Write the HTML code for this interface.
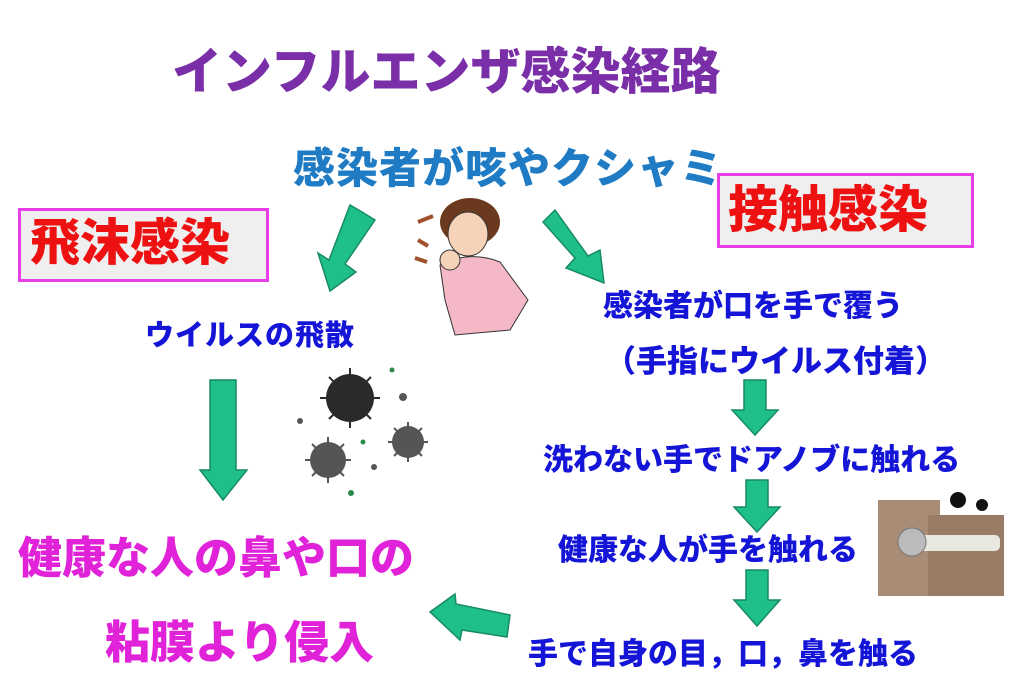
<!DOCTYPE html>
<html><head><meta charset="utf-8"><style>
body{margin:0;width:1024px;height:683px;background:#fff;position:relative;overflow:hidden;font-family:"Liberation Sans","Noto Sans CJK JP",sans-serif;font-weight:900}
.t{position:absolute;white-space:nowrap;line-height:1}
.box{position:absolute;border:3px solid #e83ee8;background:#efefef;box-sizing:border-box}
</style></head><body>
<div class="t" style="left:172px;top:47px;font-size:50px;color:#7a2fa8;letter-spacing:0px">インフルエンザ感染経路</div>
<div class="t" style="left:293px;top:148px;font-size:42px;color:#1f7cc4;letter-spacing:1px">感染者が咳やクシャミ</div>

<div class="box" style="left:18px;top:208px;width:251px;height:74px"></div>
<div class="t" style="left:30px;top:218px;font-size:50px;color:#ee1111">飛沫感染</div>
<div class="box" style="left:717px;top:173px;width:257px;height:75px"></div>
<div class="t" style="left:728px;top:185px;font-size:50px;color:#ee1111">接触感染</div>

<div class="t" style="left:145px;top:322px;font-size:29px;color:#1515d8;letter-spacing:1px">ウイルスの飛散</div>
<div class="t" style="left:18px;top:537px;font-size:44px;color:#e022d8">健康な人の鼻や口の</div>
<div class="t" style="left:105px;top:620px;font-size:45px;color:#e022d8">粘膜より侵入</div>

<div class="t" style="left:603px;top:292px;font-size:30px;color:#1515d8">感染者が口を手で覆う</div>
<div class="t" style="left:605px;top:346px;font-size:31px;color:#1515d8">（手指にウイルス付着）</div>
<div class="t" style="left:543px;top:446px;font-size:30px;color:#1515d8">洗わない手でドアノブに触れる</div>
<div class="t" style="left:558px;top:536px;font-size:30px;color:#1515d8">健康な人が手を触れる</div>
<div class="t" style="left:528px;top:640px;font-size:30px;color:#1515d8">手で自身の目，口，鼻を触る</div>

<svg width="1024" height="683" style="position:absolute;left:0;top:0">
<g fill="#1fbf8a" stroke="#178a66" stroke-width="1.5">
<!-- left diagonal -->
<polygon points="362,212 375,220 345,264 356,272 330,291 318,253 329,260 350,205"/>
<!-- right diagonal -->
<polygon points="555,210 543,222 575,258 566,268 604,283 600,250 588,256"/>
<!-- big down -->
<polygon points="210,380 236,380 236,470 247,470 223,500 200,470 210,470"/>
<!-- small downs -->
<polygon points="744,380 766,380 766,410 778,410 755,435 732,410 744,410"/>
<polygon points="746,480 768,480 768,507 780,507 757,532 734,507 746,507"/>
<polygon points="746,570 768,570 768,600 780,600 757,626 734,600 746,600"/>
<!-- left arrow -->
<polygon points="510,615 507,637 462,630 460,640 430,612 455,594 456,604"/>
</g>
<!-- woman -->
<g>
<ellipse cx="470" cy="222" rx="30" ry="24" fill="#6b3a1e"/>
<ellipse cx="468" cy="234" rx="20" ry="22" fill="#f6d2b8" stroke="#333"/>
<path d="M440,265 Q470,250 500,262 L528,300 L510,330 L455,335 L445,300 Z" fill="#f4b8c6" stroke="#333"/>
<circle cx="450" cy="260" r="10" fill="#f6d2b8" stroke="#333"/>
<path d="M418,222 l15,-6 M418,240 l10,6 M415,258 l12,4" stroke="#a0522d" stroke-width="4"/>
</g>
<!-- viruses -->
<g fill="#2a2a2a">
<circle cx="350" cy="398" r="24"/><circle cx="328" cy="460" r="18" fill="#555"/><circle cx="408" cy="442" r="16" fill="#555"/>
<circle cx="403" cy="397" r="4" fill="#555"/><circle cx="300" cy="421" r="3" fill="#555"/><circle cx="374" cy="467" r="3" fill="#555"/>
<circle cx="392" cy="370" r="2.5" fill="#2a8a4a"/><circle cx="363" cy="442" r="2.5" fill="#2a8a4a"/><circle cx="351" cy="493" r="3" fill="#2a8a4a"/>
</g>
<g stroke="#2a2a2a" stroke-width="2">
<path d="M350,368v60M320,398h60M329,377l42,42M371,377l-42,42"/>
<path d="M328,437v46M305,460h46M312,444l32,32M344,444l-32,32" stroke="#555"/>
<path d="M408,422v40M388,442h40M394,428l28,28M422,428l-28,28" stroke="#555"/>
</g>
<!-- door photo -->
<rect x="878" y="500" width="126" height="96" fill="#a88c76"/>
<rect x="928" y="515" width="76" height="81" fill="#9a7c66"/>
<rect x="905" y="535" width="95" height="16" rx="5" fill="#e8e8e0"/>
<circle cx="912" cy="542" r="14" fill="#bbb" stroke="#777"/>
<rect x="940" y="480" width="64" height="35" fill="#fff"/>
<circle cx="958" cy="500" r="8" fill="#111"/><circle cx="982" cy="505" r="6" fill="#111"/>
</svg>
</body></html>
